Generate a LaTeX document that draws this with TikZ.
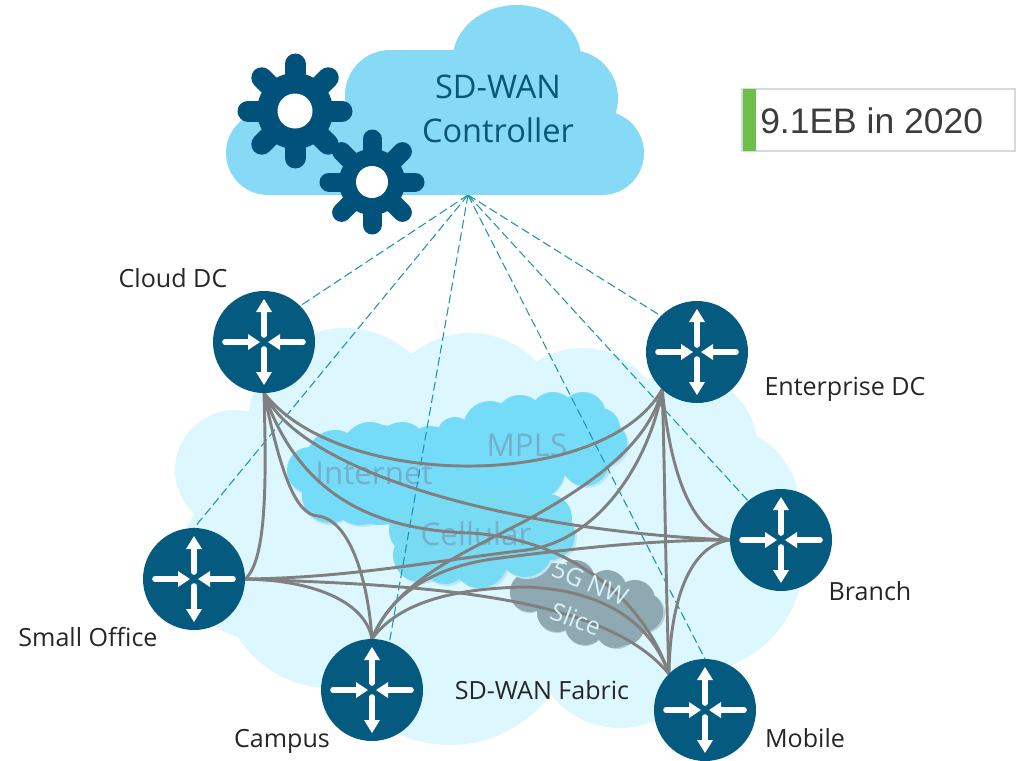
\documentclass[tikz,border=0pt]{standalone}
\usepackage{fontspec}
\usetikzlibrary{backgrounds}
\setmainfont{Open Sans}
\newfontfamily\arialfont{Liberation Sans}
\definecolor{fabriccol}{HTML}{DDF7FF}
\definecolor{ctrlcol}{HTML}{87DAF5}
\definecolor{gearcol}{HTML}{00527A}
\definecolor{routercol}{HTML}{055A80}
\definecolor{innercol}{HTML}{74DCF8}
\definecolor{cellcol}{HTML}{77DBF3}
\definecolor{slicecol}{HTML}{8FA9B2}
\definecolor{shadowcol}{HTML}{BFE6F0}
\definecolor{dashcol}{HTML}{1C93B5}
\definecolor{linkcol}{HTML}{808080}
\definecolor{ghostcol}{HTML}{74AFCB}
\definecolor{labelcol}{HTML}{262626}
\definecolor{ctrltext}{HTML}{0A5578}
\definecolor{barcol}{HTML}{6CC04A}
\definecolor{boxcol}{HTML}{D9D9D9}
\newcommand{\blobs}[2]{\foreach \cx/\cy/\cr in {#2} {\fill[#1] (\cx,\cy) circle (\cr);}}
\newcommand{\gearat}[5]{% x y outer-length spoke-width hub
  \foreach \ga in {0,45,...,315} {\draw[gearcol,line width=#4*0.75pt,line cap=round] (#1,#2) -- ++(\ga:#3);}
  \fill[gearcol] (#1,#2) circle (#5);
}
\tikzset{
  router/.style={circle,fill=routercol,minimum size=76.5pt,inner sep=0pt,outer sep=0pt},
  lbl/.style={font=\fontsize{18.8}{22}\selectfont,text=labelcol,inner sep=0pt},
  ghost/.style={font=\fontsize{23.5}{26}\selectfont,text=ghostcol,inner sep=0pt},
  slicetext/.style={font=\fontsize{18.5}{20}\selectfont,text=white!85!cyan,inner sep=0pt},
  ctrllink/.style={draw=dashcol,line width=0.8pt,dash pattern=on 6.5pt off 3pt},
  link/.style={draw=linkcol,line width=2.2pt},
  routericon/.pic={
    \draw[white,line width=4.2pt,line cap=round] (0,-7) -- (0,-32);
    \fill[white] (0,-43) -- (8,-30) -- (-8,-30) -- cycle;
    \draw[white,line width=4.2pt,line cap=round] (0,7) -- (0,32);
    \fill[white] (0,43) -- (8,30) -- (-8,30) -- cycle;
    \draw[white,line width=4.2pt,line cap=round] (-39,0) -- (-16,0);
    \fill[white] (-4,0) -- (-16,-8) -- (-16,8) -- cycle;
    \draw[white,line width=4.2pt,line cap=round] (39,0) -- (16,0);
    \fill[white] (4,0) -- (16,-8) -- (16,8) -- cycle;
  }
}
\begin{document}
\begin{tikzpicture}[x=0.75pt,y=-0.75pt]
\useasboundingbox (0,0) rectangle (1030,760);
% routers
\node[router] (cl) at (264,342) {};
\node[router] (ent) at (697,352) {};
\node[router] (br) at (781,540) {};
\node[router] (so) at (194,579) {};
\node[router] (ca) at (372,690) {};
\node[router] (mo) at (705,710) {};
\foreach \rn in {cl,ent,br,so,ca,mo} \path (\rn.center) pic {routericon};
\coordinate (apex) at (468,195);
\begin{pgfonlayer}{background}
% SD-WAN fabric cloud
\blobs{fabriccol}{235/470/60,345/425/97,470/425/92,582/430/82,680/450/78,715/510/85,690/560/113,620/640/88,450/620/125,330/580/108,260/560/80,480/520/150,370/520/120,600/550/130}
% 5G slice
\blobs{slicecol!50!fabriccol}{530/593/20,557/613/20,585/626/20,617/629/20,645/613/20}
\blobs{slicecol}{530/592/20,555/585/22,575/580/20,607/590/20,635/600/20,643/612/20,625/625/20,615/628/20,585/625/20,557/612/20,590/605/30}
% Internet, MPLS, Cellular shadows
\blobs{shadowcol}{310/472/23,330/497/28,362/497/30,400/497/30,425/525/26,422/557/27,447/562/24,482/562/28,527/552/27,552/537/25,537/472/28,587/464/24,607/445/22}
% Internet
\blobs{innercol}{310/470/23,330/495/28,360/495/30,400/495/30,335/458/28,370/450/28,402/448/26,430/452/26,380/475/50,440/480/30}
% Cellular
\blobs{cellcol}{415/530/26,420/555/27,445/560/24,480/560/28,525/550/27,550/535/25,548/518/24,500/520/40,450/525/35,470/500/30,520/495/25}
% MPLS
\blobs{innercol}{490/428/27,520/420/25,553/415/23,583/415/23,600/428/20,605/443/22,585/462/24,537/470/28,495/465/28,465/450/25,545/440/40,455/435/18}
% cloud texts
\node[ghost] (mplslabel) at (527,445) {MPLS};
\node[ghost] (inetlabel) at (374,473) {Internet};
\node[ghost] (celllabel) at (476,534) {Cellular};
% control-plane dashed links
\foreach \target in {cl.45,so.north,ca.70,mo.north,br.130,ent.135}
  \draw[ctrllink] (apex) -- (\target);
% fabric links
\draw[link] (cl.south) .. controls (340,491) and (605,491) .. (ent.227);
\draw[link] (cl.south) .. controls (300,470) and (500,530) .. (br.west);
\draw[link] (cl.south) .. controls (300,500) and (380,530) .. (470,533) .. controls (560,538) and (640,590) .. (mo.135);
\draw[link] (cl.south) .. controls (280,470) and (295,515) .. (318,516) .. controls (350,520) and (368,580) .. (ca.north);
\draw[link] (cl.south) .. controls (266,470) and (268,560) .. (so.east);
\draw[link] (so.east) .. controls (350,578) and (440,560) .. (527,550) .. controls (600,540) and (650,460) .. (ent.227);
\draw[link] (ca.north) .. controls (395,580) and (470,550) .. (527,520) .. controls (600,480) and (650,440) .. (ent.227);
\draw[link] (so.east) .. controls (400,585) and (600,590) .. (mo.135);
\draw[link] (so.east) .. controls (310,580) and (365,600) .. (ca.north);
\draw[link] (ca.north) .. controls (392,590) and (440,565) .. (500,558) .. controls (580,548) and (650,540) .. (br.west);
\draw[link] (ca.north) .. controls (400,600) and (460,588) .. (527,587) .. controls (600,590) and (650,620) .. (mo.135);
\draw[link] (ent.227) .. controls (670,470) and (690,530) .. (br.west);
\draw[link] (ent.227) .. controls (665,480) and (665,550) .. (mo.135);
\draw[link] (br.west) .. controls (690,545) and (670,600) .. (mo.135);
% 5G slice texts over the links
\node[slicetext,rotate=-23] (slicea) at (590,583) {5G NW};
\node[slicetext,rotate=-21] (sliceb) at (576,619) {Slice};
\end{pgfonlayer}
% controller cloud
\fill[ctrlcol] (517,60) ellipse (64.5 and 55);
\blobs{ctrlcol}{268/153/42,390/95/45,570/98/48,602/153/42}
\fill[ctrlcol] (268,195) -- (268,111) -- (346,111) -- (346,95) -- (390,50) -- (570,50) -- (618,98) -- (602,111) -- (602,195) -- cycle;
\gearat{295}{111}{47}{21}{38}
\fill[white] (295,111) circle (17.5);
\gearat{372}{182}{43}{19}{33}
\fill[white] (372,182) circle (16);
\node[font=\fontsize{24.4}{33}\selectfont,text=ctrltext,align=center,inner sep=0pt] (ctrl) at (498,109) {SD-WAN\\Controller};
% labels
\node[lbl] (lcl) at (173,278) {Cloud DC};
\node[lbl] (lent) at (845,389) {Enterprise DC};
\node[lbl] (lbr) at (870,591) {Branch};
\node[lbl] (lso) at (88,637) {Small Office};
\node[lbl] (lca) at (282,741) {Campus};
\node[lbl] (lmo) at (805,738) {Mobile};
\node[lbl] (lfab) at (542,690) {SD-WAN Fabric};
% stat box
\node[draw=boxcol,line width=1.5pt,fill=white,minimum width=205pt,minimum height=47pt,inner sep=0pt] (statbox) at (878.5,120) {};
\fill[barcol] (743,89) rectangle (756,151);
\node[font=\arialfont\fontsize{26.6}{30}\selectfont,text=labelcol!90!white,anchor=west,inner sep=0pt] (stat) at (760,121) {9.1EB in 2020};
\end{tikzpicture}
\end{document}
